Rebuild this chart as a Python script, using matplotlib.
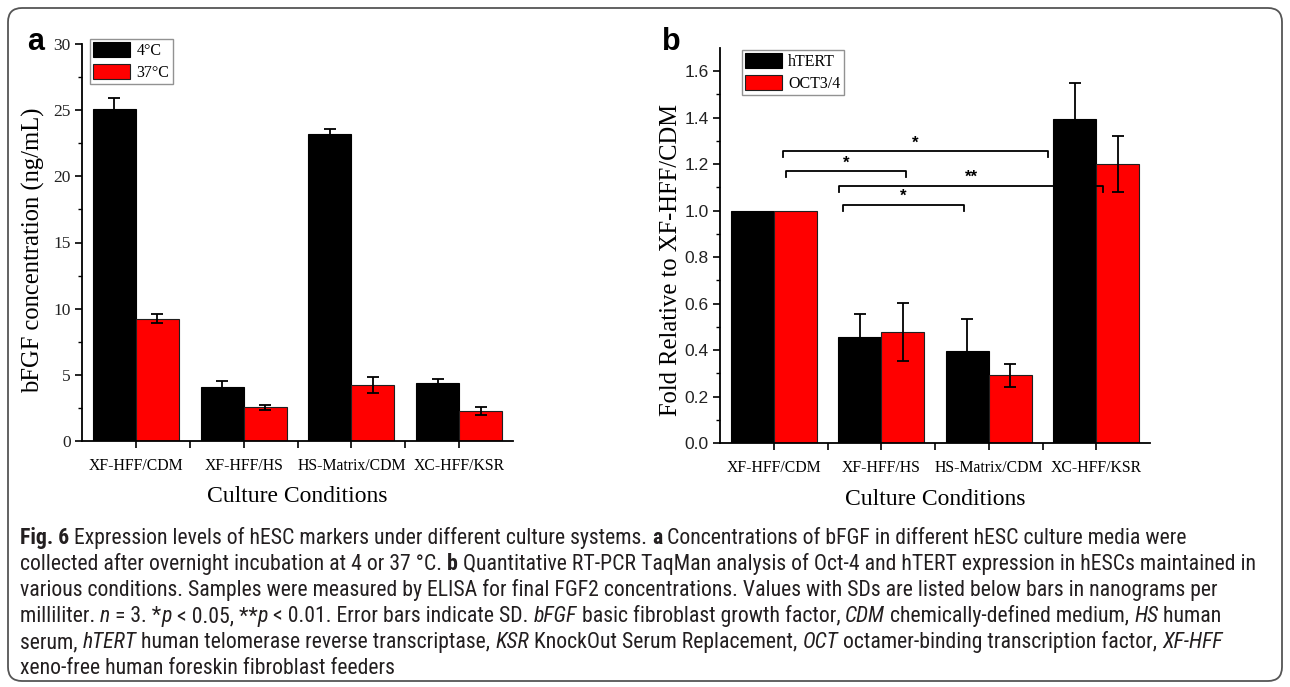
import numpy as np
import matplotlib
matplotlib.use("Agg")
import matplotlib.pyplot as plt
from matplotlib import font_manager
from matplotlib.patches import FancyBboxPatch
from matplotlib.transforms import IdentityTransform

conditions = ["XF-HFF/CDM", "XF-HFF/HS", "HS-Matrix/CDM", "XC-HFF/KSR"]

# panel a: bFGF (ng/mL)
bfgf_4c = [25.1, 4.05, 23.2, 4.4]
bfgf_4c_sd = [0.8, 0.45, 0.4, 0.3]
bfgf_37c = [9.25, 2.55, 4.2, 2.3]
bfgf_37c_sd = [0.35, 0.2, 0.6, 0.3]

# panel b: fold relative to XF-HFF/CDM
htert = [1.0, 0.457, 0.395, 1.396]
htert_sd = [0.0, 0.10, 0.137, 0.152]
oct34 = [1.0, 0.477, 0.292, 1.202]
oct34_sd = [0.0, 0.125, 0.05, 0.12]

# significance brackets: x from, x to, height, label
brackets = [
    (0.09, 2.55, 1.255, "*"),
    (0.112, 1.23, 1.172, "*"),
    (0.609, 3.063, 1.108, "**"),
    (0.643, 1.767, 1.026, "*"),
]

SERIF = ["Liberation Serif", "DejaVu Serif"]
SANS = ["Liberation Sans", "DejaVu Sans"]

# pick a narrow sans for the caption if one is installed
installed = {(f.name, f.stretch) for f in font_manager.fontManager.ttflist}
names = {n for n, _ in installed}
NARROW, STRETCH = ["DejaVu Sans"], "normal"
for cand in ["Liberation Sans Narrow", "Roboto Condensed", "Open Sans Condensed", "Noto Sans Condensed"]:
    if cand in names:
        NARROW = [cand, "DejaVu Sans"]
        break
else:
    for fam in ["Noto Sans", "Open Sans", "Roboto", "DejaVu Sans"]:
        if any(n == fam and st in ("condensed", "semi-condensed", "extra-condensed") for n, st in installed):
            NARROW, STRETCH = [fam, "DejaVu Sans"], "condensed"
            break

W, H = 1290, 687
fig = plt.figure(figsize=(W / 100, H / 100), dpi=100)


def px_axes(left, top, right, bottom):
    # pixel box -> figure fractions
    return fig.add_axes([left / W, 1 - bottom / H, (right - left) / W, (bottom - top) / H])


def bar_panel(ax, s1, e1, s2, e2, names, ylim, major, minor, ytick_family):
    x = np.arange(len(conditions))
    w = 0.4
    ax.bar(x - w / 2, s1, w, color="black", edgecolor="black", linewidth=0.8, label=names[0])
    ax.bar(x + w / 2, s2, w, color="#ff0000", edgecolor="#202020", linewidth=0.8, label=names[1])
    for off, vals, sds in [(-w / 2, s1, e1), (w / 2, s2, e2)]:
        idx = [i for i in range(len(vals)) if sds[i] > 0]
        ax.errorbar(x[idx] + off, np.array(vals)[idx], yerr=np.array(sds)[idx], fmt="none",
                    ecolor="black", elinewidth=1.3, capsize=4.5, capthick=1.3)

    ax.set_xlim(-0.5, len(conditions) - 0.5)
    ax.set_ylim(*ylim)
    ax.set_xticks(x)
    ax.set_xticks(x[:-1] + 0.5, minor=True)
    ax.set_xticklabels(conditions, family=SERIF, fontsize=11.3)
    ax.set_yticks(major)
    ax.set_yticks(minor, minor=True)
    for lab in ax.get_yticklabels():
        lab.set_family(ytick_family)
        lab.set_fontsize(12.5)
        lab.set_color("#222222")
    ax.tick_params(axis="both", which="major", direction="out", length=5, width=1.2, pad=3)
    ax.tick_params(axis="x", which="major", pad=7)
    ax.tick_params(axis="x", which="minor", direction="out", length=5, width=1.2)
    ax.tick_params(axis="y", which="minor", direction="out", length=3, width=1.0)
    for side in ["top", "right"]:
        ax.spines[side].set_visible(False)
    for side in ["left", "bottom"]:
        ax.spines[side].set_linewidth(1.3)
    ax.set_xlabel("Culture Conditions", family=SERIF, fontsize=17)


legend_style = dict(loc="upper left", borderaxespad=0, prop={"family": SERIF, "size": 11.5},
                    frameon=True, fancybox=False, edgecolor="#777777", handlelength=2.3,
                    handleheight=1.1, labelspacing=0.3, borderpad=0.2, handletextpad=0.4)

# ---- panel a ----
ax_a = px_axes(82, 44, 513, 441)
bar_panel(ax_a, bfgf_4c, bfgf_4c_sd, bfgf_37c, bfgf_37c_sd, ["4°C", "37°C"],
          (0, 30), np.arange(0, 31, 5), np.arange(2.5, 30, 5), SERIF)
ax_a.set_ylabel("bFGF concentration (ng/mL)", family=SERIF, fontsize=17.7)
ax_a.yaxis.set_label_coords(-0.086, 0.48)
ax_a.xaxis.set_label_coords(0.5, -0.113)
ax_a.legend(bbox_to_anchor=(0.019, 1.013), **legend_style)

# ---- panel b ----
ax_b = px_axes(720, 48, 1150, 443)
bar_panel(ax_b, htert, htert_sd, oct34, oct34_sd, ["hTERT", "OCT3/4"],
          (0, 1.7), np.round(np.arange(0, 1.61, 0.2), 1), np.arange(0.1, 1.7, 0.2), SANS)
ax_b.set_yticklabels([f"{v:.1f}" for v in np.arange(0, 1.61, 0.2)], family=SANS, fontsize=12.5)
ax_b.set_ylabel("Fold Relative to XF-HFF/CDM", family=SERIF, fontsize=17.7)
ax_b.yaxis.set_label_coords(-0.089, 0.463)
ax_b.xaxis.set_label_coords(0.5, -0.117)
ax_b.legend(bbox_to_anchor=(0.051, 0.996), **legend_style)

tick_h = 0.026
for x0, x1, y, lab in brackets:
    ax_b.plot([x0, x0, x1, x1], [y - tick_h, y, y, y - tick_h], color="black", lw=1.3)
    ax_b.text((x0 + x1) / 2, y + 0.034, lab, ha="center", va="center",
              family=SANS, fontsize=12, fontweight="bold")

# panel letters
fig.text(27 / W, 1 - 50 / H, "a", family=SANS, fontsize=22, fontweight="bold", va="baseline")
fig.text(662 / W, 1 - 50 / H, "b", family=SANS, fontsize=22, fontweight="bold", va="baseline")

# ---- caption ----
caption = [
    [("Fig. 6", "bold", "normal"),
     (" Expression levels of hESC markers under different culture systems. ", "normal", "normal"),
     ("a", "bold", "normal"),
     (" Concentrations of bFGF in different hESC culture media were", "normal", "normal")],
    [("collected after overnight incubation at 4 or 37 °C. ", "normal", "normal"),
     ("b", "bold", "normal"),
     (" Quantitative RT-PCR TaqMan analysis of Oct-4 and hTERT expression in hESCs maintained in", "normal", "normal")],
    [("various conditions. Samples were measured by ELISA for final FGF2 concentrations. Values with SDs are listed below bars in nanograms per", "normal", "normal")],
    [("milliliter. ", "normal", "normal"), ("n", "normal", "italic"), (" = 3. *", "normal", "normal"),
     ("p", "normal", "italic"), (" < 0.05, **", "normal", "normal"), ("p", "normal", "italic"),
     (" < 0.01. Error bars indicate SD. ", "normal", "normal"), ("bFGF", "normal", "italic"),
     (" basic fibroblast growth factor, ", "normal", "normal"), ("CDM", "normal", "italic"),
     (" chemically-defined medium, ", "normal", "normal"), ("HS", "normal", "italic"),
     (" human", "normal", "normal")],
    [("serum, ", "normal", "normal"), ("hTERT", "normal", "italic"),
     (" human telomerase reverse transcriptase, ", "normal", "normal"), ("KSR", "normal", "italic"),
     (" KnockOut Serum Replacement, ", "normal", "normal"), ("OCT", "normal", "italic"),
     (" octamer-binding transcription factor, ", "normal", "normal"), ("XF-HFF", "normal", "italic")],
    [("xeno-free human foreskin fibroblast feeders", "normal", "normal")],
]

renderer = fig.canvas.get_renderer()


def run_width(s, weight, style, size):
    # measure between bars so leading/trailing spaces count
    kw = dict(family=NARROW, fontsize=size, fontweight=weight, fontstyle=style, fontstretch=STRETCH)
    t1 = fig.text(0, 0, "|" + s + "|", **kw)
    t2 = fig.text(0, 0, "||", **kw)
    w = t1.get_window_extent(renderer).width - t2.get_window_extent(renderer).width
    t1.remove()
    t2.remove()
    return w


# size the caption so that line 2 runs to the right edge as in the reference
probe = 14.0
line2 = sum(run_width(s, wt, st, probe) for s, wt, st in caption[1])
cap_size = min(16.0, probe * 1246 / line2)

line_y = [544, 570, 596, 622, 648, 674]
for runs, ypix in zip(caption, line_y):
    xpix = 20
    for s, weight, style in runs:
        fig.text(xpix, H - ypix, s, family=NARROW, fontsize=cap_size, fontweight=weight,
                 fontstyle=style, fontstretch=STRETCH, color="#231f20", va="baseline", ha="left",
                 transform=IdentityTransform())
        xpix += run_width(s, weight, style, cap_size)

# rounded frame
frame = FancyBboxPatch((8, 6), W - 16, H - 14, boxstyle="round,pad=0,rounding_size=14",
                       fill=False, edgecolor="#555555", linewidth=1.3,
                       transform=IdentityTransform())
fig.patches.append(frame)

fig.savefig("out.png", dpi=100)
